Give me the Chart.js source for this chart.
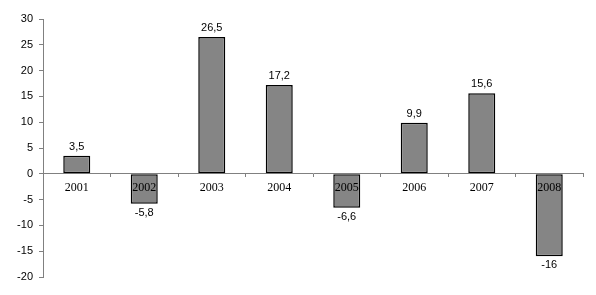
<!DOCTYPE html>
<html>
<head>
<meta charset="utf-8">
<script src="https://cdn.jsdelivr.net/npm/chart.js@4.4.1/dist/chart.umd.min.js"></script>
<style>
  html, body { margin: 0; padding: 0; background: #fff; }
  #wrap { width: 596px; height: 295px; }
</style>
</head>
<body>
<div id="wrap"><canvas id="chart"></canvas></div>
<script>
// datos del gráfico
var years = ['2001', '2002', '2003', '2004', '2005', '2006', '2007', '2008'];
var values = [3.5, -5.8, 26.5, 17.2, -6.6, 9.9, 15.6, -16];
var yMin = -20;
var yMax = 30;
var yStep = 5;

function fmtComa(v) {
  return String(v).replace('.', ',');
}

// etiquetas de valor encima / debajo de cada barra
var valueLabels = {
  id: 'valueLabels',
  afterDatasetsDraw: function(chart) {
    var ctx = chart.ctx;
    var meta = chart.getDatasetMeta(0);
    ctx.save();
    ctx.font = '11px "Liberation Sans", Arial, sans-serif';
    ctx.fillStyle = '#000';
    ctx.textAlign = 'center';
    ctx.textBaseline = 'middle';
    meta.data.forEach(function(bar, i) {
      var v = values[i];
      var y = v >= 0 ? bar.y - 9 : bar.y + 9;
      ctx.fillText(fmtComa(v), bar.x, y);
    });
    ctx.restore();
  }
};

new Chart(document.getElementById('chart'), {
  type: 'bar',
  data: {
    labels: years,
    datasets: [{
      data: values,
      backgroundColor: '#858585',
      borderColor: '#000',
      borderWidth: 1.5,
      borderSkipped: false,
      categoryPercentage: 1,
      barPercentage: 0.4
    }]
  },
  options: {
    responsive: true,
    maintainAspectRatio: false,
    animation: false,
    layout: { padding: { top: 19, bottom: 18, left: 0, right: 13 } },
    plugins: { legend: { display: false }, tooltip: { enabled: false } },
    scales: {
      x: {
        position: { y: 0 },
        offset: true,
        grid: { display: true, drawOnChartArea: false, drawTicks: true, tickLength: 3, color: '#808080', offset: true },
        border: { display: true, color: '#808080', width: 1 },
        ticks: { z: 1, color: '#000', padding: 4, autoSkip: false, font: { family: '"Liberation Serif", "Times New Roman", serif', size: 12 }, maxRotation: 0 }
      },
      y: {
        min: yMin,
        max: yMax,
        afterFit: function(scale) { scale.width = 43; },
        grid: { display: true, drawOnChartArea: false, drawTicks: true, tickLength: 4, color: '#808080' },
        border: { display: true, color: '#808080', width: 1 },
        ticks: { stepSize: yStep, color: '#000', padding: 6, font: { family: '"Liberation Sans", Arial, sans-serif', size: 11 } }
      }
    }
  },
  plugins: [valueLabels]
});
</script>
</body>
</html>
